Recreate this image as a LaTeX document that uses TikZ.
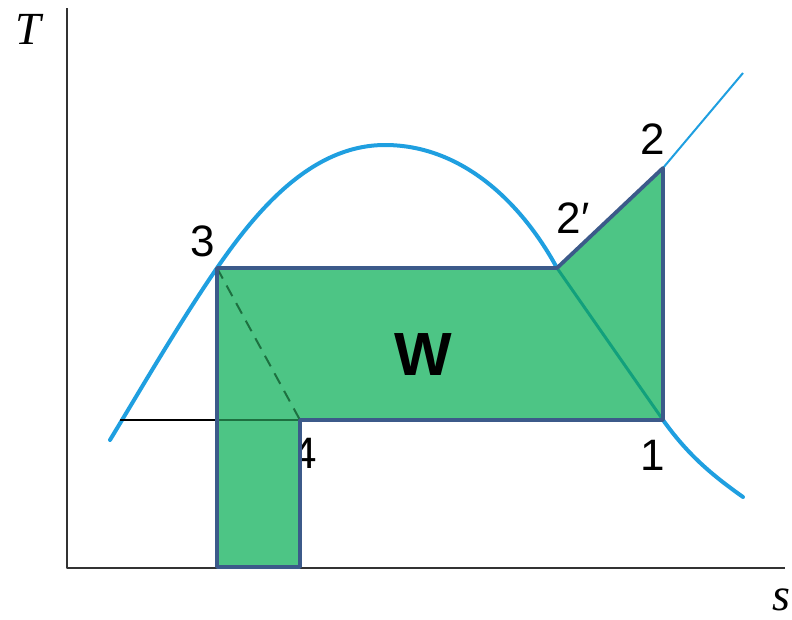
\documentclass[tikz,border=0pt]{standalone}
\usepackage{fontspec}
\setmainfont{Liberation Sans}
\newfontfamily\axisfont{Liberation Serif}
\usetikzlibrary{positioning}
\definecolor{Sky}{HTML}{1F9FE0}
\definecolor{Leaf}{HTML}{4DC585}
\definecolor{Slate}{HTML}{3C5A8A}
\definecolor{Pine}{HTML}{1D7040}
\definecolor{Teal}{HTML}{12A07C}
\begin{document}
\begin{tikzpicture}[x=1pt,y=-1pt,line join=round,
    ptlabel/.style={font=\fontsize{44}{50}\selectfont},
    axlabel/.style={font=\fontsize{46}{52}\selectfont\axisfont\itshape}]
    \useasboundingbox (0,0) rectangle (792,619);
    % axes
    \coordinate (orig) at (67,568);
    \coordinate (ytop) at (67,8);
    \coordinate (xend) at (785,568);
    \draw[line width=2pt,color=black!80] (ytop) -- (orig) -- (xend);
    \node[axlabel] (tlab) at (28,29) {T};
    \node[axlabel] (slab) at (781,600) {s};
    % cycle states
    \coordinate (p3) at (217,268);
    \coordinate (p2p) at (557,268);
    \coordinate (p2) at (663,168);
    \coordinate (p1) at (663,420);
    \coordinate (p4) at (300,420);
    \coordinate (b4) at (300,567);
    \coordinate (b3) at (217,567);
    \coordinate (m3) at (217,420);
    \coordinate (liq) at (120,420);
    \coordinate (vapend) at (743,73);
    \coordinate (domestart) at (110,440);
    \coordinate (peak) at (385,145);
    \coordinate (domeend) at (743,497);
    % saturation dome
    \draw[Sky,line width=4pt,line cap=round]
      (domestart) .. controls (145,382) and (180,322) .. (p3)
      .. controls (255,213) and (310,145) .. (peak)
      .. controls (460,145) and (520,200) .. (p2p) -- (p1)
      .. controls (688,455) and (712,475) .. (domeend);
    \draw[Sky,line width=2pt] (p2) -- (vapend);
    \node[ptlabel] (l4) at (305,453) {4};
    % work area
    \fill[Leaf] (p3) -- (p2p) -- (p2) -- (p1) -- (p4) -- (b4) -- (b3) -- cycle;
    \draw[Teal,line width=3pt] (p2p) -- (p1);
    \draw[Pine,line width=2pt,dash pattern=on 12pt off 8pt] (p3) -- (p4);
    \draw[Pine,line width=2pt] (m3) -- (p4);
    \draw[black,line width=2pt] (liq) -- (m3);
    \draw[Slate,line width=3.8pt] (p3) -- (p2p) -- (p2) -- (p1) -- (p4) -- (b4) -- (b3) -- cycle;
    \node[ptlabel] (l3) at (203,241) {3};
    \node[ptlabel] (l2p) at (573,218) {2′};
    \node[ptlabel] (l2) at (653,139) {2};
    \node[ptlabel] (l1) at (653,455) {1};
    \node[font=\fontsize{61}{70}\selectfont\bfseries] (wlab) at (423,355) {W};
\end{tikzpicture}
\end{document}
